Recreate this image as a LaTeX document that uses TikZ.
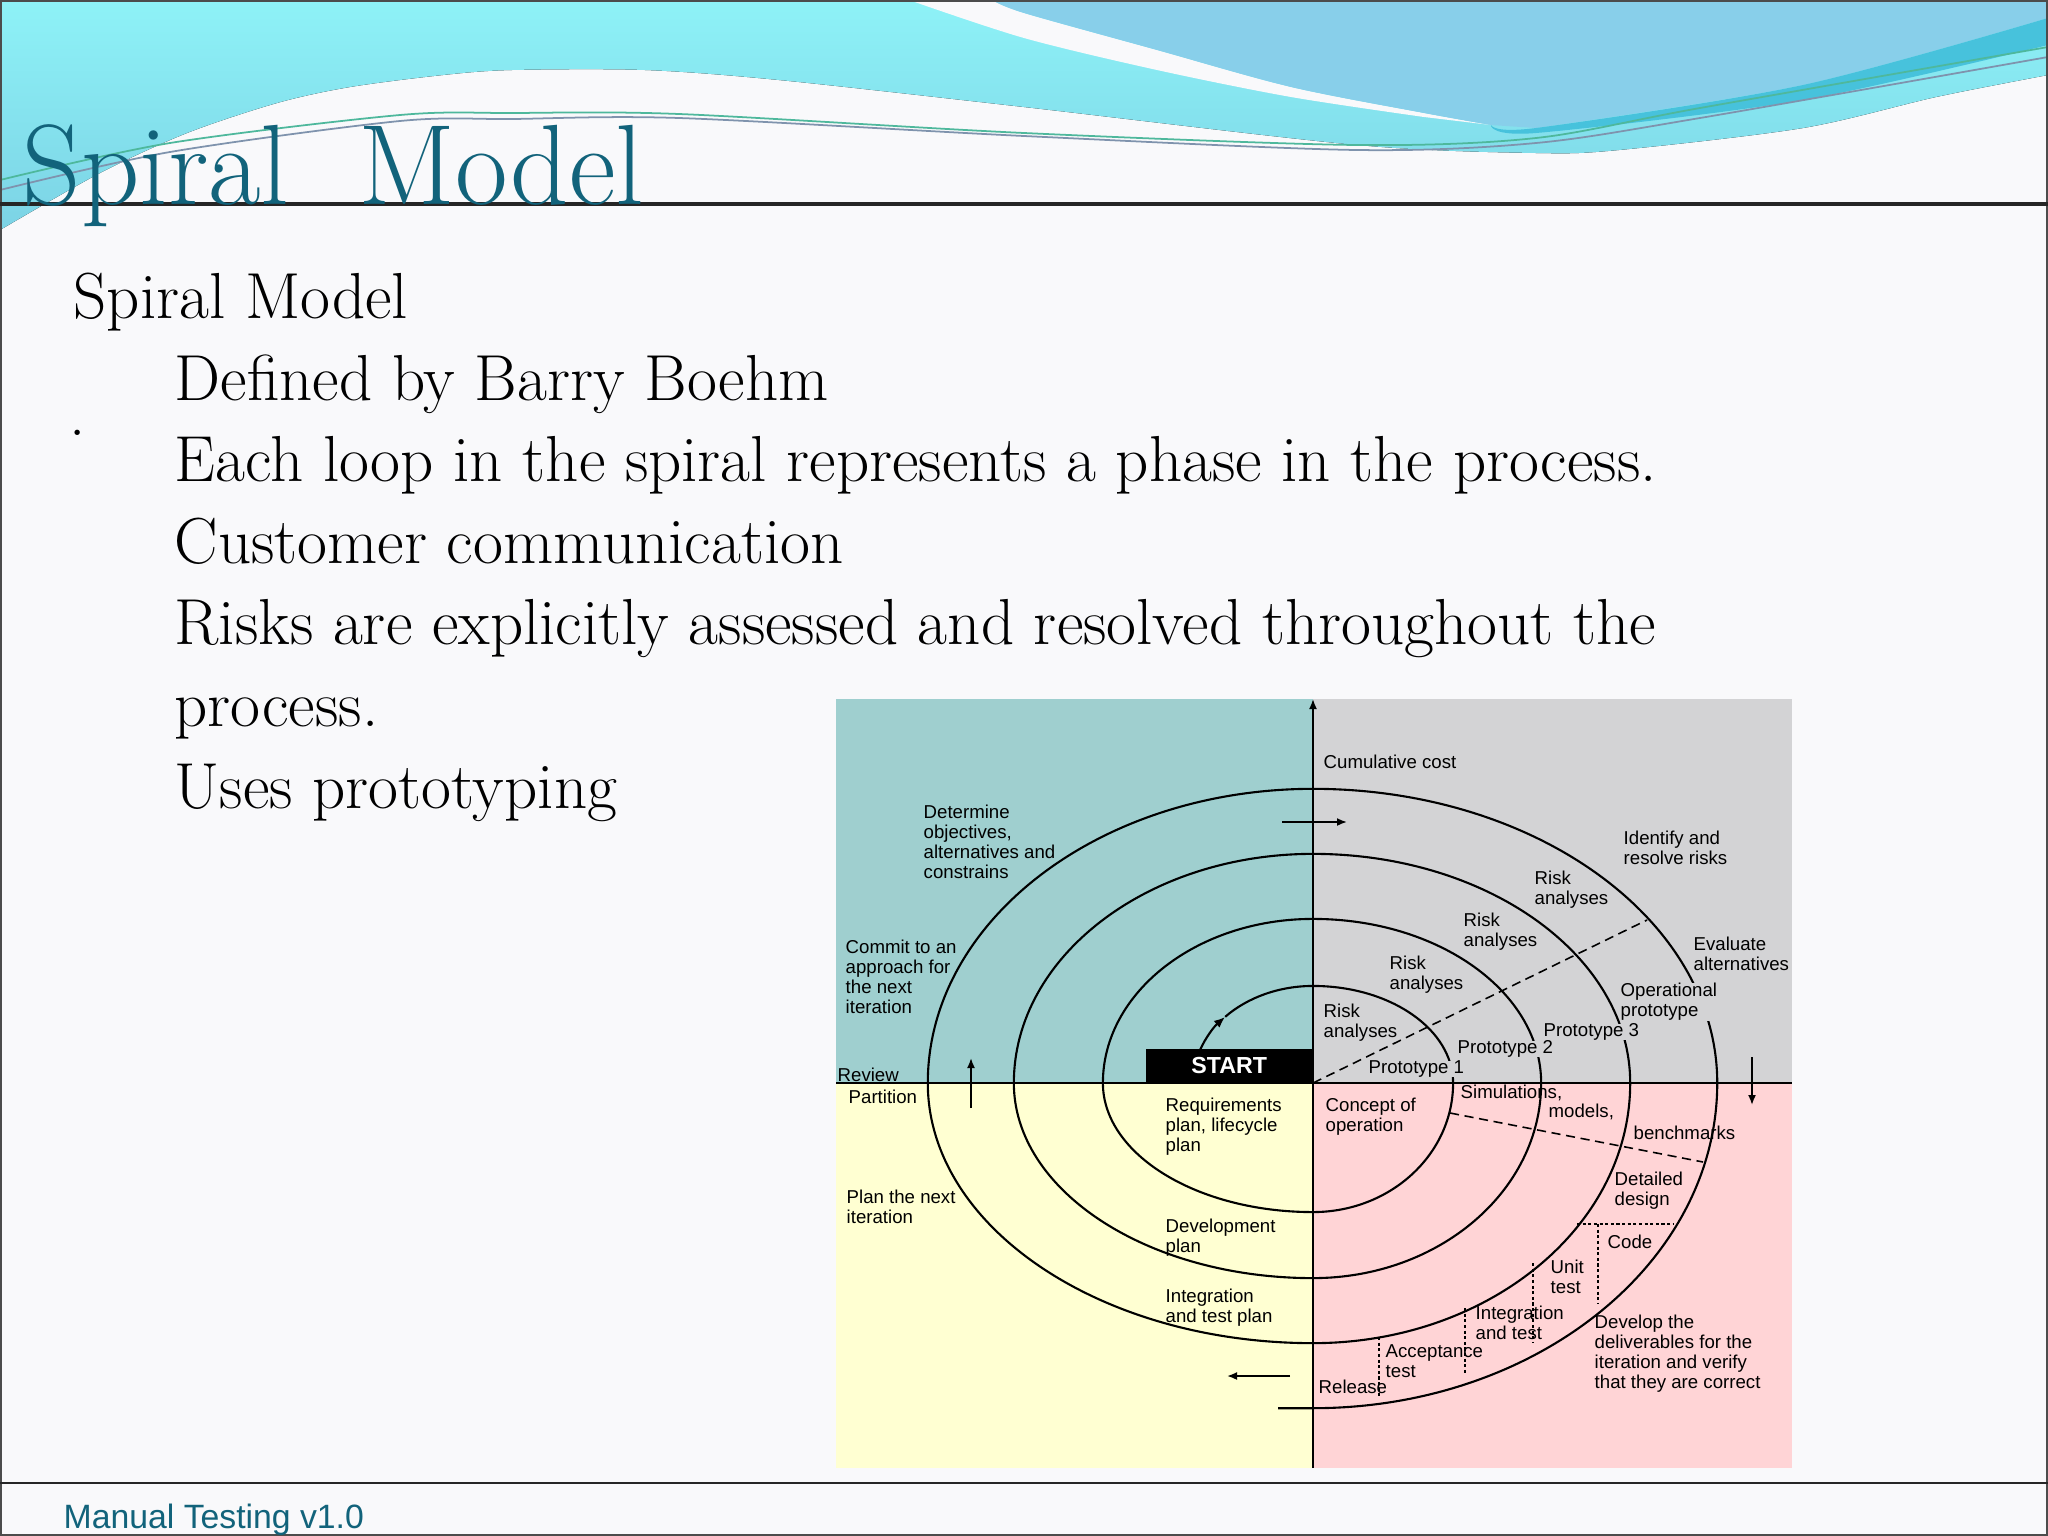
\documentclass[tikz,border=0pt]{standalone}
\usepackage{fontspec}
\newfontfamily\diagfont{Liberation Sans}
\usetikzlibrary{arrows.meta}
\definecolor{slidebg}{HTML}{F9F9FB}
\definecolor{wavecyan}{HTML}{8EF2F7}
\definecolor{wavecyanlow}{HTML}{7CD3E5}
\definecolor{waveblue}{HTML}{88CFEA}
\definecolor{waverib}{HTML}{47C2DC}
\definecolor{wavegrey}{HTML}{7F93AD}
\definecolor{wavegreen}{HTML}{4EB89C}
\definecolor{titleteal}{HTML}{12637B}
\definecolor{qteal}{HTML}{9FCFCF}
\definecolor{qgrey}{HTML}{D3D3D5}
\definecolor{qyellow}{HTML}{FFFFD2}
\definecolor{qpink}{HTML}{FFD4D6}

\begin{document}
\begin{tikzpicture}[
  x=0.01cm,y=-0.01cm,
  lbl/.style={font=\diagfont\fontsize{5.3}{5.7}\selectfont,align=left,inner sep=0pt,anchor=west},
  body/.style={font=\fontsize{18.5}{21}\selectfont,anchor=base west,inner sep=0pt},
  spir/.style={line width=0.6pt},
  ar/.style={-{Latex[length=1mm,width=0.8mm]},line width=0.5pt},
  dsh/.style={line width=0.45pt,dash pattern=on 2.6pt off 1.6pt},
  dtt/.style={line width=0.45pt,dash pattern=on 0.9pt off 0.7pt}
]
\useasboundingbox (0,0) rectangle (2048,1536);
\fill[slidebg] (0,0) rectangle (2048,1536);

\fill[top color=wavecyan,bottom color=wavecyanlow] (0,0) -- (2048,0) -- plot[smooth] coordinates
  {(2048,75) (1936,97) (1803,128) (1619,150) (1536,153) (1357,145) (1024,107) (779,80)
   (645,70) (512,70) (443,75) (350,87) (277,103) (187,133) (100,173) (0,230)} -- cycle;
\fill[slidebg] plot[smooth] coordinates {(992,0) (1024,13) (1157,50) (1291,87) (1424,113) (1491,125)}
  -- plot[smooth] coordinates {(1424,117) (1291,97) (1157,70) (1024,38) (909,0)} -- cycle;
\fill[waveblue] plot[smooth] coordinates {(992,0) (1024,13) (1157,50) (1291,87) (1424,113) (1491,125)}
  -- plot[smooth] coordinates {(1536,128) (1803,85) (2048,18)} -- (2048,0) -- cycle;
\fill[waverib] plot[smooth] coordinates {(1491,125) (1536,128) (1803,85) (2048,18)} -- (2048,45)
  -- plot[smooth] coordinates {(2048,45) (1803,100) (1536,133) (1491,126)} -- cycle;
\draw[wavegreen,line width=0.5pt] plot[smooth] coordinates
  {(0,180) (170,143) (400,115) (512,113) (679,114) (1024,133) (1357,145) (1536,138) (1700,108) (2048,47)};
\draw[wavegrey,line width=0.5pt] plot[smooth] coordinates
  {(0,190) (170,152) (400,121) (512,119) (679,118) (1024,136) (1357,150) (1536,143) (1700,118) (2048,57)};

\draw[titleteal,line width=0.8pt] (0,1) -- (2048,1);
\draw[black!70,line width=0.6pt] (1,1) rectangle (2047,1535);
\draw[black!85,line width=1pt] (0,204) -- (2048,204);
\draw[black!85,line width=0.8pt] (0,1483) -- (2048,1483);

\node[font=\fontsize{32.5}{33}\selectfont,text=titleteal,anchor=base west,inner sep=0pt] (title)
  at (22,204) {Spiral\hspace{0.6em}Model};
\node[body] (subhead) at (73,318) {Spiral Model};
\node[body] (dotmark) at (69,435) {.};
\foreach \txt [count=\i from 0] in {Defined by Barry Boehm,
  Each loop in the spiral represents a phase in the process.,
  Customer communication,
  Risks are explicitly assessed and resolved throughout the,
  process.,
  Uses prototyping}
  \node[body] (item\i) at (174,{400+81.6*\i}) {\txt};
\node[font=\diagfont\fontsize{9.6}{11}\selectfont,text=titleteal,anchor=base west,inner sep=0pt]
  (footer) at (63,1528) {Manual Testing v1.0};

\fill[qteal] (836,699) rectangle (1313,1083);
\fill[qgrey] (1313,699) rectangle (1792,1083);
\fill[qyellow] (836,1083) rectangle (1313,1468);
\fill[qpink] (1313,1083) rectangle (1792,1468);
\draw[line width=0.5pt] (836,1083) -- (1792,1083);
\draw[ar] (1313,1468) -- (1313,699);

\node[fill=black,text=white,font=\diagfont\bfseries\fontsize{6.6}{7}\selectfont,minimum width=1.66cm,
  minimum height=0.33cm,inner sep=0pt,anchor=south east] (start) at (1313,1083) {START};

\draw[spir,-{Latex[length=1.1mm,width=0.9mm]}] (1200,1050)
  arc[start angle=160,end angle=137,x radius=1.2cm,y radius=0.97cm];
\draw[spir] (1225.2,1016.8) arc[start angle=137,end angle=90,x radius=1.2cm,y radius=0.97cm]
  arc[start angle=90,end angle=0,x radius=1.4cm,y radius=0.97cm]
  arc[start angle=0,end angle=-90,x radius=1.4cm,y radius=1.29cm]
  arc[start angle=-90,end angle=-180,x radius=2.1cm,y radius=1.29cm]
  arc[start angle=180,end angle=90,x radius=2.1cm,y radius=1.64cm]
  arc[start angle=90,end angle=0,x radius=2.28cm,y radius=1.64cm]
  arc[start angle=0,end angle=-90,x radius=2.28cm,y radius=1.95cm]
  arc[start angle=-90,end angle=-180,x radius=2.99cm,y radius=1.95cm]
  arc[start angle=180,end angle=90,x radius=2.99cm,y radius=2.29cm]
  arc[start angle=90,end angle=0,x radius=3.17cm,y radius=2.29cm]
  arc[start angle=0,end angle=-90,x radius=3.17cm,y radius=2.6cm]
  arc[start angle=-90,end angle=-180,x radius=3.85cm,y radius=2.6cm]
  arc[start angle=180,end angle=90,x radius=3.85cm,y radius=2.94cm]
  arc[start angle=90,end angle=0,x radius=4.04cm,y radius=2.94cm]
  arc[start angle=0,end angle=-90,x radius=4.04cm,y radius=3.25cm]
  -- ++(-35,0);

\draw[ar] (1282,822) -- (1347,822);
\draw[ar] (1752,1057) -- (1752,1105);
\draw[ar] (1290,1376) -- (1227,1376);
\draw[ar] (971,1108) -- (971,1058);

\draw[dsh] (1313,1083) -- (1647,920);
\draw[dsh] (1450,1113) -- (1703,1162);
\draw[dtt] (1577,1224) -- (1673,1224);
\draw[dtt] (1598,1224) -- (1598,1303);
\draw[dtt] (1533,1263) -- (1533,1343);
\draw[dtt] (1465,1308) -- (1465,1375);
\draw[dtt] (1379,1337) -- (1379,1398);

\node[lbl] (cumcost) at (1323,762) {Cumulative cost};
\node[lbl] (objectives) at (923,842) {Determine\\objectives,\\alternatives and\\constrains};
\node[lbl] (commit) at (845,977) {Commit to an\\approach for\\the next\\iteration};
\node[lbl] (review) at (837,1075) {Review};
\node[lbl] (partition) at (848,1097) {Partition};
\node[lbl] (reqplan) at (1165,1127) {Requirements\\plan, lifecycle\\plan};
\node[lbl] (plannext) at (846,1207) {Plan the next\\iteration};
\node[lbl] (devplan) at (1165,1238) {Development\\plan};
\node[lbl] (itplan) at (1165,1308) {Integration\\and test plan};
\node[lbl] (release) at (1318,1387) {Release};
\node[lbl] (acctest) at (1385,1361) {Acceptance\\test};
\node[lbl] (inttest) at (1475,1323) {Integration\\and test};
\node[lbl] (unittest) at (1550,1277) {Unit\\test};
\node[lbl] (code) at (1607,1242) {Code};
\node[lbl] (deliver) at (1594,1354) {Develop the\\deliverables for the\\iteration and verify\\that they are correct};
\node[lbl] (detdesign) at (1614,1191) {Detailed\\design};
\node[lbl] (bench) at (1633,1133) {benchmarks};
\node[lbl] (models) at (1548,1112) {models,};
\node[lbl] (simul) at (1460,1093) {Simulations,};
\node[lbl] (concept) at (1325,1117) {Concept of\\operation};
\node[lbl,fill=qgrey] (proto1) at (1368,1069) {Prototype 1};
\node[lbl,fill=qgrey] (proto2) at (1457,1049) {Prototype 2};
\node[lbl,fill=qgrey] (proto3) at (1543,1032) {Prototype 3};
\node[lbl,fill=qgrey] (oper) at (1620,1002) {Operational\\prototype};
\node[lbl] (evaluate) at (1693,954) {Evaluate\\alternatives};
\node[lbl] (identify) at (1623,848) {Identify and\\resolve risks};
\node[lbl] (risk4) at (1534,890) {Risk\\analyses};
\node[lbl] (risk3) at (1463,932) {Risk\\analyses};
\node[lbl] (risk2) at (1389,975) {Risk\\analyses};
\node[lbl] (risk1) at (1323,1023) {Risk\\analyses};
\end{tikzpicture}
\end{document}
